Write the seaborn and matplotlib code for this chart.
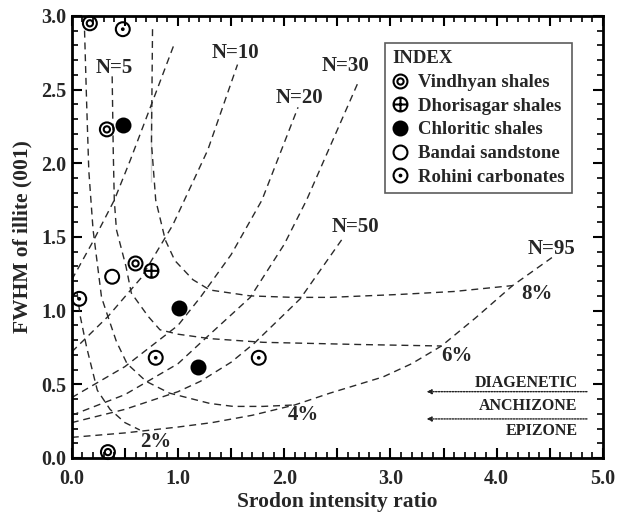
import matplotlib
matplotlib.use("Agg")
import matplotlib.pyplot as plt
import seaborn as sns
import pandas as pd
from matplotlib.path import Path
from matplotlib.lines import Line2D
from matplotlib.ticker import MultipleLocator, FuncFormatter

# Style
sns.set_theme(style="ticks")
plt.rcParams["font.family"] = ["Liberation Serif", "DejaVu Serif"]
plt.rcParams["font.weight"] = "bold"
plt.rcParams["axes.labelweight"] = "bold"

# Crystallite thickness curves (N)
n5_x = [0.0, 0.20, 0.40, 0.55, 0.75, 0.97]
n5_y = [1.21, 1.47, 1.75, 2.02, 2.40, 2.82]
n10_x = [0.0, 0.34, 0.65, 0.95, 1.28, 1.56]
n10_y = [0.72, 0.96, 1.22, 1.58, 2.09, 2.67]
n20_x = [0.0, 0.50, 1.00, 1.21, 1.50, 1.79, 2.13]
n20_y = [0.41, 0.62, 0.90, 1.09, 1.38, 1.75, 2.38]
n30_x = [0.0, 0.50, 1.00, 1.21, 1.68, 2.00, 2.21, 2.69]
n30_y = [0.29, 0.43, 0.64, 0.78, 1.09, 1.45, 1.75, 2.54]
n50_x = [0.0, 0.50, 1.00, 1.21, 1.50, 1.72, 2.15, 2.54]
n50_y = [0.24, 0.33, 0.45, 0.52, 0.65, 0.78, 1.08, 1.48]
n95_x = [0.0, 0.50, 1.00, 1.32, 1.70, 2.10, 2.43, 2.93, 3.20, 3.48, 3.80, 4.15, 4.52]
n95_y = [0.14, 0.17, 0.21, 0.24, 0.29, 0.36, 0.44, 0.55, 0.64, 0.76, 0.95, 1.17, 1.36]

# Expandability curves (%)
p2_x = [0.05, 0.08, 0.14, 0.24, 0.36, 0.50, 0.64]
p2_y = [1.12, 0.96, 0.75, 0.46, 0.33, 0.24, 0.19]
p4_x = [0.12, 0.14, 0.16, 0.20, 0.28, 0.34, 0.42, 0.52, 0.70, 0.92, 1.30, 1.52, 1.80, 2.10]
p4_y = [2.90, 2.40, 1.95, 1.55, 1.09, 0.96, 0.79, 0.64, 0.52, 0.44, 0.37, 0.35, 0.35, 0.36]
p6_x = [0.38, 0.39, 0.40, 0.42, 0.51, 0.56, 0.72, 0.83, 1.00, 1.30, 1.80, 2.71, 3.48]
p6_y = [2.59, 2.09, 1.75, 1.55, 1.30, 1.12, 0.96, 0.87, 0.84, 0.81, 0.785, 0.77, 0.76]
p8_x = [0.76, 0.75, 0.75, 0.79, 0.88, 0.97, 1.14, 1.30, 1.68, 2.08, 2.43, 3.09, 3.60, 4.15]
p8_y = [2.91, 2.40, 1.87, 1.75, 1.48, 1.34, 1.21, 1.14, 1.10, 1.09, 1.09, 1.11, 1.13, 1.17]

# Sample points
vindhyan_x = [0.17, 0.33, 0.60, 0.34]
vindhyan_y = [2.95, 2.23, 1.32, 0.04]
dhorisagar_x = [0.75]
dhorisagar_y = [1.27]
chloritic_x = [0.48, 1.01, 1.19]
chloritic_y = [2.26, 1.02, 0.62]
bandai_x = [0.38]
bandai_y = [1.23]
rohini_x = [0.48, 0.07, 0.79, 1.76]
rohini_y = [2.91, 1.08, 0.68, 0.68]

curve_labels = ["N=5", "N=10", "N=20", "N=30", "N=50", "N=95", "8%", "6%", "4%", "2%"]
label_x = [0.40, 1.54, 2.14, 2.58, 2.67, 4.52, 4.38, 3.63, 2.18, 0.79]
label_y = [2.65, 2.75, 2.44, 2.66, 1.57, 1.42, 1.11, 0.69, 0.29, 0.11]

zone_names = ["DIAGENETIC", "ANCHIZONE", "EPIZONE"]
zone_y = [0.51, 0.355, 0.185]
zone_bounds = [0.45, 0.265]

# Marker shapes
circle = Path.unit_circle()


def ring(r):
    return Path(circle.vertices * r, circle.codes)


plus = Path([(-1, 0), (1, 0), (0, -1), (0, 1)],
            [Path.MOVETO, Path.LINETO, Path.MOVETO, Path.LINETO])
double_ring = Path.make_compound_path(circle, ring(0.45))
circle_plus = Path.make_compound_path(circle, plus)
circle_dot = Path.make_compound_path(circle, ring(0.12))

fig = plt.figure(figsize=(6.19, 5.14), dpi=100)
ax = fig.add_axes([0.116, 0.109, 0.858, 0.860])

line_color = "#2a2a2a"
curves = [(n5_x, n5_y), (n10_x, n10_y), (n20_x, n20_y), (n30_x, n30_y),
          (n50_x, n50_y), (n95_x, n95_y), (p2_x, p2_y), (p4_x, p4_y),
          (p6_x, p6_y), (p8_x, p8_y)]
for cx, cy in curves:
    sns.lineplot(x=cx, y=cy, sort=False, ax=ax, color=line_color,
                 linewidth=1.0, dashes=False, linestyle=(0, (5, 3.5)))

groups = [
    ("Vindhyan shales", vindhyan_x, vindhyan_y, double_ring, "none"),
    ("Dhorisagar shales", dhorisagar_x, dhorisagar_y, circle_plus, "none"),
    ("Chloritic shales", chloritic_x, chloritic_y, "o", "black"),
    ("Bandai sandstone", bandai_x, bandai_y, "o", "none"),
    ("Rohini carbonates", rohini_x, rohini_y, circle_dot, "none"),
]
for name, gx, gy, mk, fc in groups:
    ax.scatter(gx, gy, marker=mk, s=100, facecolors=fc, edgecolors="black",
               linewidths=1.5, zorder=5, clip_on=False)

for t, lx, ly in zip(curve_labels, label_x, label_y):
    ax.text(lx, ly, t, fontsize=15, fontweight="bold", ha="center", va="center")

for name, zy in zip(zone_names, zone_y):
    ax.text(4.76, zy, name, fontsize=11.5, fontweight="bold", ha="right",
            va="center", color="#222222")
for by in zone_bounds:
    ax.annotate("", xy=(3.34, by), xytext=(4.85, by),
                arrowprops=dict(arrowstyle="-|>", linestyle=(0, (1, 1)),
                                lw=1.0, color="#222222", mutation_scale=7,
                                shrinkA=0, shrinkB=0))

handles = [Line2D([], [], marker=mk, linestyle="none", markersize=10,
                  markerfacecolor=fc, markeredgecolor="black",
                  markeredgewidth=1.5, label=name)
           for name, gx, gy, mk, fc in groups]
leg = ax.legend(handles=handles, title="INDEX", loc="upper left",
                bbox_to_anchor=(0.589, 0.939), borderaxespad=0,
                frameon=True, fancybox=False, edgecolor="#333333",
                prop={"size": 13.5, "weight": "bold"},
                title_fontproperties={"size": 13.5, "weight": "bold"},
                alignment="left", handlelength=0.8, handletextpad=0.6,
                labelspacing=0.35, borderpad=0.4)
leg.get_frame().set_linewidth(1.2)

ax.set_xlim(0, 5)
ax.set_ylim(0, 3)
ax.xaxis.set_major_locator(MultipleLocator(0.5))
ax.xaxis.set_minor_locator(MultipleLocator(0.1))
ax.yaxis.set_major_locator(MultipleLocator(0.5))
ax.yaxis.set_minor_locator(MultipleLocator(0.1))
ax.xaxis.set_major_formatter(FuncFormatter(
    lambda v, p: f"{v:.1f}" if abs(v - round(v)) < 1e-6 else ""))
ax.yaxis.set_major_formatter(FuncFormatter(lambda v, p: f"{v:.1f}"))
ax.tick_params(which="both", direction="in", top=True, right=True,
               labelsize=14.5, color="black")
ax.tick_params(axis="x", which="major", pad=8)
ax.tick_params(axis="y", which="major", pad=4)
ax.tick_params(which="major", length=7, width=1.5)
ax.tick_params(which="minor", length=4, width=1.2)
for lab in ax.get_xticklabels() + ax.get_yticklabels():
    lab.set_fontweight("bold")
for sp in ax.spines.values():
    sp.set_linewidth(2)
    sp.set_color("black")

ax.set_xlabel("Srodon intensity ratio", fontsize=15.5, fontweight="bold", labelpad=2)
ax.set_ylabel("FWHM of illite (001)", fontsize=15.5, fontweight="bold", labelpad=6)

fig.savefig("out.png", dpi=100)
